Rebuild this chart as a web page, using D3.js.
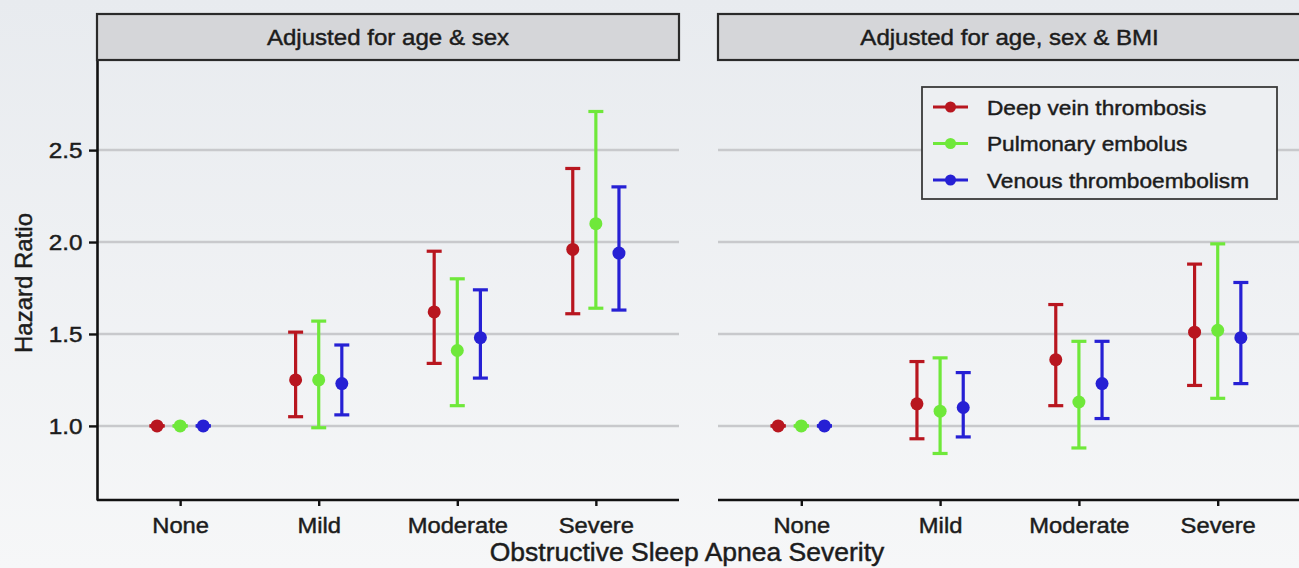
<!DOCTYPE html>
<html>
<head>
<meta charset="utf-8">
<script src="https://cdn.jsdelivr.net/npm/d3@7"></script>
<style>
  html, body { margin: 0; padding: 0; background: #eef0f2; }
  svg { display: block; font-family: "Liberation Sans", Arial, Helvetica, sans-serif; }
  svg text { stroke: #1c1c1c; stroke-width: 0.45px; }
</style>
</head>
<body>
<svg id="chart" width="1299" height="568"></svg>
<script>
// ---- data -------------------------------------------------------------
const categories = ["None", "Mild", "Moderate", "Severe"];
const outcomes = ["Deep vein thrombosis", "Pulmonary embolus", "Venous thromboembolism"];
const panelTitles = ["Adjusted for age & sex", "Adjusted for age, sex & BMI"];
const yTicks = [1.0, 1.5, 2.0, 2.5];
const yTickLabels = ["1.0", "1.5", "2.0", "2.5"];
const xTitle = "Obstructive Sleep Apnea Severity";
const yTitle = "Hazard Ratio";

// Model 1: adjusted for age & sex
const dvtHR1 = [1.00, 1.25, 1.62, 1.96];
const dvtLo1 = [1.00, 1.05, 1.34, 1.61];
const dvtHi1 = [1.00, 1.51, 1.95, 2.40];
const peHR1  = [1.00, 1.25, 1.41, 2.10];
const peLo1  = [1.00, 0.99, 1.11, 1.64];
const peHi1  = [1.00, 1.57, 1.80, 2.71];
const vteHR1 = [1.00, 1.23, 1.48, 1.94];
const vteLo1 = [1.00, 1.06, 1.26, 1.63];
const vteHi1 = [1.00, 1.44, 1.74, 2.30];

// Model 2: adjusted for age, sex & BMI
const dvtHR2 = [1.00, 1.12, 1.36, 1.51];
const dvtLo2 = [1.00, 0.93, 1.11, 1.22];
const dvtHi2 = [1.00, 1.35, 1.66, 1.88];
const peHR2  = [1.00, 1.08, 1.13, 1.52];
const peLo2  = [1.00, 0.85, 0.88, 1.15];
const peHi2  = [1.00, 1.37, 1.46, 1.99];
const vteHR2 = [1.00, 1.10, 1.23, 1.48];
const vteLo2 = [1.00, 0.94, 1.04, 1.23];
const vteHi2 = [1.00, 1.29, 1.46, 1.78];

const colors = ["#b8161f", "#6fe83a", "#2620d4"];

// Assemble long-format rows for each panel
const series = [
  [[dvtHR1, dvtLo1, dvtHi1], [peHR1, peLo1, peHi1], [vteHR1, vteLo1, vteHi1]],
  [[dvtHR2, dvtLo2, dvtHi2], [peHR2, peLo2, peHi2], [vteHR2, vteLo2, vteHi2]]
];
const panelRows = series.map(panel =>
  panel.flatMap((s, oi) => categories.map((c, ci) => ({
    category: c, outcome: outcomes[oi], hr: s[0][ci], lo: s[1][ci], hi: s[2][ci]
  })))
);

// ---- layout -----------------------------------------------------------
const svg = d3.select("#chart");
const W = 1299, H = 568;
const plotTop = 60, plotBottom = 500, stripTop = 14;
const panels = [{ x0: 97, x1: 679 }, { x0: 718, x1: 1301 }];
const textStretch = 1.08;

// soft background
const defs = svg.append("defs");
const bg = defs.append("linearGradient").attr("id", "bg").attr("x1", 0).attr("y1", 0).attr("x2", 0).attr("y2", 1);
bg.append("stop").attr("offset", "0%").attr("stop-color", "#e8ebef");
bg.append("stop").attr("offset", "100%").attr("stop-color", "#f6f7f8");
svg.append("rect").attr("width", W).attr("height", H).attr("fill", "url(#bg)");

const y = d3.scaleLinear().domain([0.597, 2.99]).range([plotBottom, plotTop]);

panels.forEach((p, pi) => {
  const x = d3.scalePoint().domain(categories).range([p.x0, p.x1]).padding(0.6);
  const half = x.step() * 0.1667;
  const dodge = d3.scalePoint().domain(outcomes).range([-half, half]);
  const color = d3.scaleOrdinal().domain(outcomes).range(colors);
  const capHalf = 7.5;
  const g = svg.append("g");

  // horizontal grid
  g.append("g").selectAll("line").data(yTicks).join("line")
    .attr("x1", p.x0).attr("x2", p.x1)
    .attr("y1", d => y(d)).attr("y2", d => y(d))
    .attr("stroke", "#c8c9cc").attr("stroke-width", 2.5);

  // error bars
  const eb = g.append("g").selectAll("g").data(panelRows[pi]).join("g")
    .attr("transform", d => `translate(${x(d.category) + dodge(d.outcome)},0)`)
    .attr("stroke", d => color(d.outcome)).attr("stroke-width", 3.2);
  eb.append("line").attr("x1", 0).attr("x2", 0)
    .attr("y1", d => y(d.lo)).attr("y2", d => y(d.hi));
  eb.append("line").attr("x1", -capHalf).attr("x2", capHalf)
    .attr("y1", d => y(d.lo)).attr("y2", d => y(d.lo));
  eb.append("line").attr("x1", -capHalf).attr("x2", capHalf)
    .attr("y1", d => y(d.hi)).attr("y2", d => y(d.hi));

  // point estimates
  g.append("g").selectAll("circle").data(panelRows[pi]).join("circle")
    .attr("cx", d => x(d.category) + dodge(d.outcome))
    .attr("cy", d => y(d.hr))
    .attr("r", 6.5)
    .attr("fill", d => color(d.outcome));

  // x axis
  const xa = g.append("g").attr("transform", `translate(0,${plotBottom})`)
    .call(d3.axisBottom(x).tickSize(6).tickSizeOuter(0).tickPadding(11));
  xa.select(".domain").attr("stroke", "#111").attr("stroke-width", 2.6)
    .attr("d", `M${p.x0},0H${p.x1}`);
  xa.selectAll(".tick line").attr("stroke", "#111").attr("stroke-width", 2.4);
  xa.selectAll(".tick text").attr("fill", "#1c1c1c").attr("font-size", 22)
    .attr("font-family", "Liberation Sans, Arial, sans-serif")
    .attr("transform", `scale(${textStretch},1)`);

  // y axis only on the first panel
  if (pi === 0) {
    const ya = g.append("g").attr("transform", `translate(${p.x0},0)`)
      .call(d3.axisLeft(y).tickValues(yTicks).tickFormat((d, i) => yTickLabels[i])
        .tickSize(8).tickSizeOuter(0).tickPadding(5.5));
    ya.select(".domain").attr("stroke", "#111").attr("stroke-width", 2.6);
    ya.selectAll(".tick line").attr("stroke", "#111").attr("stroke-width", 2.4);
    ya.selectAll(".tick text").attr("fill", "#1c1c1c").attr("font-size", 22.5)
      .attr("font-family", "Liberation Sans, Arial, sans-serif")
      .attr("transform", `scale(${textStretch},1)`);
  }

  // facet strip
  g.append("rect").attr("x", p.x0).attr("y", stripTop)
    .attr("width", p.x1 - p.x0).attr("height", plotTop - stripTop)
    .attr("fill", "#d5d6d9").attr("stroke", "#2a2a2a").attr("stroke-width", 2.2);
  g.append("text")
    .attr("transform", `translate(${(p.x0 + p.x1) / 2},45) scale(1.07,1)`)
    .attr("text-anchor", "middle").attr("font-size", 22.5).attr("fill", "#1c1c1c")
    .text(panelTitles[pi]);

  // legend inside the second panel
  if (pi === 1) {
    const lg = g.append("g").attr("transform", "translate(922,87)");
    lg.append("rect").attr("width", 355).attr("height", 112)
      .attr("fill", "#edeff2").attr("stroke", "#3a3a3a").attr("stroke-width", 1.8);
    const items = lg.selectAll("g.item").data(outcomes).join("g").attr("class", "item")
      .attr("transform", (d, i) => `translate(0,${20 + i * 36.5})`);
    items.append("line").attr("x1", 11).attr("x2", 46).attr("y1", 0).attr("y2", 0)
      .attr("stroke", d => color(d)).attr("stroke-width", 3);
    items.append("circle").attr("cx", 28.5).attr("cy", 0).attr("r", 5.5)
      .attr("fill", d => color(d));
    items.append("text")
      .attr("transform", "translate(65,7.5) scale(1.08,1)")
      .attr("font-size", 21).attr("fill", "#1c1c1c").text(d => d);
  }
});

// axis titles
svg.append("text")
  .attr("transform", `translate(687,561) scale(1.06,1)`)
  .attr("text-anchor", "middle").attr("font-size", 25).attr("fill", "#1c1c1c")
  .text(xTitle);
svg.append("text")
  .attr("transform", `translate(32,283) rotate(-90)`)
  .attr("text-anchor", "middle").attr("font-size", 24).attr("fill", "#1c1c1c")
  .text(yTitle);
</script>
</body>
</html>
